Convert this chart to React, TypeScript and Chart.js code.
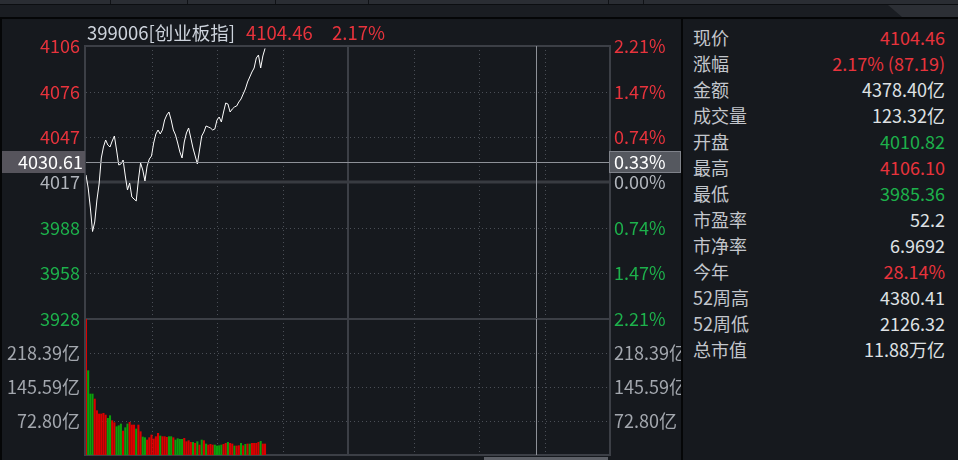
import React, { useEffect, useRef } from 'react';
import { Chart, registerables } from 'chart.js';

Chart.register(...registerables);

// ---------------- data ----------------
const PRE_CLOSE = 4017.27;
const MAX_PCT = 2.21;
const PCT_TICKS = [2.21, 1.47, 0.74, 0, -0.74, -1.47, -2.21];
const SESSION_MINUTES = 240;
const MINUTE_GRID = [30, 60, 90, 120, 150, 180, 210];
const MIDDAY = 120;

const PRICES = [
  4022.15, 4013.69, 4000.69, 3985.4, 3991.58, 4005.89, 4016.29, 4033.21, 4040.36, 4044.91,
  4041.66, 4040.36, 4044.26, 4047.51, 4038.41, 4028.65, 4029.3, 4031.9, 4021.5, 4012.39,
  4016.95, 4007.84, 4006.54, 4005.24, 4018.9, 4029.95, 4025.4, 4018.25, 4028.0, 4032.55,
  4034.51, 4042.96, 4048.81, 4051.42, 4048.81, 4051.42, 4057.92, 4061.17, 4063.12, 4057.92,
  4051.42, 4048.16, 4042.96, 4037.11, 4033.21, 4043.61, 4049.47, 4052.72, 4046.21, 4039.71,
  4034.51, 4029.3, 4038.41, 4047.51, 4050.12, 4054.02, 4053.37, 4052.72, 4051.42, 4052.07,
  4057.92, 4059.87, 4056.62, 4063.12, 4068.98, 4068.33, 4063.12, 4065.07, 4066.38, 4067.03,
  4069.63, 4071.58, 4074.83, 4078.08, 4082.64, 4085.89, 4089.14, 4091.74, 4098.25, 4100.2,
  4091.74, 4099.55, 4104.46,
];

const VOLUMES = [
  290.5, 180.5, 130.6, 130.6, 119.9, 94.9, 87.8, 87.8, 89.3, 85.6,
  78.5, 84.2, 73.5, 69.2, 60.6, 62.8, 66.4, 51.4, 58.5, 66.4,
  70.0, 64.2, 64.2, 55.7, 64.2, 49.9, 38.5, 37.1, 32.1, 37.1,
  42.8, 34.3, 39.3, 46.4, 40.7, 39.3, 39.3, 37.8, 39.3, 39.3,
  37.1, 32.1, 35.0, 33.6, 33.6, 35.7, 28.5, 30.7, 27.1, 27.1,
  25.0, 28.5, 21.4, 32.1, 30.7, 23.6, 21.4, 22.8, 21.4, 21.4,
  19.3, 20.0, 21.4, 22.8, 25.0, 27.1, 25.0, 23.6, 19.3, 19.3,
  20.0, 25.0, 20.0, 22.8, 23.6, 23.6, 25.0, 25.0, 25.0, 27.1,
  29.3, 23.6, 23.6,
];

// 1 = up (red), -1 = down (green)
const VOL_DIR = [
  1, -1, -1, -1, 1, 1, 1, 1, 1, 1,
  -1, -1, 1, 1, -1, -1, -1, 1, -1, -1,
  1, 1, 1, -1, 1, 1, -1, -1, 1, 1,
  1, 1, 1, 1, -1, 1, 1, 1, -1, -1,
  1, -1, -1, -1, -1, 1, 1, 1, 1, -1,
  1, -1, 1, -1, 1, -1, 1, 1, 1, -1,
  -1, -1, -1, 1, 1, -1, 1, 1, -1, 1,
  1, -1, 1, -1, 1, -1, 1, 1, 1, 1,
  -1, 1, 1,
];

const VOL_MAX = 291.19;
const VOL_TICKS = [72.8, 145.59, 218.39];

const CROSS_MINUTE = 206;
const CROSS_PRICE = 4030.61;

const TITLE_CODE = '399006[创业板指]';
const TITLE_PRICE = '4104.46';
const TITLE_PCT = '2.17%';

const INFO_LABELS = ['现价', '涨幅', '金额', '成交量', '开盘', '最高', '最低', '市盈率', '市净率', '今年', '52周高', '52周低', '总市值'];
const INFO_VALUES = ['4104.46', '2.17% (87.19)', '4378.40亿', '123.32亿', '4010.82', '4106.10', '3985.36', '52.2', '6.9692', '28.14%', '4380.41', '2126.32', '11.88万亿'];
const INFO_TONES = ['up', 'up', 'flat', 'flat', 'down', 'up', 'down', 'flat', 'flat', 'up', 'flat', 'flat', 'flat'];

// ---------------- styles ----------------
const FONT = '"Noto Sans CJK SC", "Noto Sans", sans-serif';
const BG = '#16191e';
const UP = '#e8333c';
const DOWN = '#1db14b';
const FLAT = '#b0b4bb';
const VOL_LABEL = '#a3a7ae';
const BAR_UP = '#dc0000';
const BAR_DOWN = '#0ca00c';
const GRID_DOT = '#4a4e56';
const GRID_SOLID = '#3c3f46';

const pctToPrice = (p: number) => PRE_CLOSE * (1 + p / 100);
const toneColor = (t: string) => (t === 'up' ? UP : t === 'down' ? DOWN : '#dfe1e4');
const priceColor = (v: number) => {
  const d = v - PRE_CLOSE;
  if (Math.abs(d) < 0.5) return FLAT;
  return d > 0 ? UP : DOWN;
};

function hline(ctx: CanvasRenderingContext2D, x1: number, x2: number, y: number) {
  ctx.beginPath();
  ctx.moveTo(x1, y);
  ctx.lineTo(x2, y);
  ctx.stroke();
}
function vline(ctx: CanvasRenderingContext2D, x: number, y1: number, y2: number) {
  ctx.beginPath();
  ctx.moveTo(x, y1);
  ctx.lineTo(x, y2);
  ctx.stroke();
}

function drawVerticalGrid(chart: any) {
  const { ctx, chartArea: a, scales } = chart;
  ctx.strokeStyle = GRID_DOT;
  ctx.lineWidth = 1;
  ctx.setLineDash([1, 3]);
  MINUTE_GRID.forEach((m) => {
    if (m === MIDDAY) return;
    const x = Math.round(scales.x.getPixelForValue(m)) + 0.5;
    vline(ctx, x, a.top, a.bottom);
  });
  ctx.setLineDash([]);
  ctx.strokeStyle = GRID_SOLID;
  ctx.lineWidth = 2;
  const xm = Math.round(scales.x.getPixelForValue(MIDDAY));
  vline(ctx, xm, a.top, a.bottom);
}

function drawBorder(chart: any) {
  const { ctx, chartArea: a } = chart;
  ctx.strokeStyle = GRID_SOLID;
  ctx.lineWidth = 2;
  ctx.setLineDash([]);
  ctx.strokeRect(a.left - 1, a.top, a.right - a.left + 1, a.bottom - a.top);
}

function drawCrossV(chart: any) {
  const { ctx, chartArea: a, scales } = chart;
  ctx.save();
  ctx.strokeStyle = '#8e9198';
  ctx.lineWidth = 1;
  const x = Math.round(scales.x.getPixelForValue(CROSS_MINUTE)) + 0.5;
  vline(ctx, x, a.top, a.bottom);
  ctx.restore();
}

const pricePlugin = {
  id: 'priceDecor',
  beforeDatasetsDraw(chart: any) {
    const { ctx, chartArea: a, scales } = chart;
    ctx.save();
    ctx.strokeStyle = GRID_DOT;
    ctx.lineWidth = 1;
    ctx.setLineDash([1, 3]);
    PCT_TICKS.forEach((p) => {
      if (p === 0 || Math.abs(p) === MAX_PCT) return;
      const y = Math.round(scales.y.getPixelForValue(pctToPrice(p))) + 0.5;
      hline(ctx, a.left, a.right, y);
    });
    drawVerticalGrid(chart);
    ctx.strokeStyle = '#383b41';
    ctx.lineWidth = 3;
    const y0 = Math.round(scales.y.getPixelForValue(PRE_CLOSE));
    hline(ctx, a.left, a.right, y0);
    drawBorder(chart);
    ctx.restore();
  },
  afterDraw(chart: any) {
    const { ctx, chartArea: a, scales } = chart;
    drawCrossV(chart);
    ctx.save();
    const y = Math.round(scales.y.getPixelForValue(CROSS_PRICE)) + 0.5;
    ctx.strokeStyle = '#8e9198';
    ctx.lineWidth = 1;
    hline(ctx, a.left, a.right, y);
    // left label box
    ctx.fillStyle = '#56545c';
    ctx.fillRect(2, y - 11.5, a.left - 3, 22);
    ctx.font = `18px ${FONT}`;
    ctx.textBaseline = 'middle';
    ctx.fillStyle = '#ffffff';
    ctx.textAlign = 'right';
    ctx.fillText(CROSS_PRICE.toFixed(2), a.left - 3, y);
    // right label box
    const pct = ((CROSS_PRICE - PRE_CLOSE) / PRE_CLOSE) * 100;
    ctx.fillStyle = '#55585f';
    ctx.fillRect(a.right - 1, y - 11.5, 72, 22);
    ctx.strokeStyle = '#7f828a';
    ctx.strokeRect(a.right - 0.5, y - 11, 71, 21);
    ctx.fillStyle = '#ffffff';
    ctx.textAlign = 'left';
    ctx.fillText(Math.abs(pct).toFixed(2) + '%', a.right + 4, y);
    ctx.restore();
  },
};

const volPlugin = {
  id: 'volDecor',
  beforeDatasetsDraw(chart: any) {
    const { ctx, chartArea: a, scales } = chart;
    ctx.save();
    ctx.strokeStyle = GRID_DOT;
    ctx.lineWidth = 1;
    ctx.setLineDash([1, 3]);
    VOL_TICKS.forEach((v) => {
      const y = Math.round(scales.y.getPixelForValue(v)) + 0.5;
      hline(ctx, a.left, a.right, y);
    });
    drawVerticalGrid(chart);
    drawBorder(chart);
    ctx.restore();
  },
  afterDraw(chart: any) {
    drawCrossV(chart);
  },
};

const fixWidth = (w: number) => (axis: any) => {
  axis.width = w;
  axis.paddingTop = 0;
  axis.paddingBottom = 0;
};

const noGrid = { display: false, drawTicks: false, tickLength: 0 };

export default function App() {
  const priceRef = useRef<HTMLCanvasElement>(null);
  const volRef = useRef<HTMLCanvasElement>(null);

  useEffect(() => {
    document.body.style.margin = '0';
    const lo = pctToPrice(-MAX_PCT);
    const hi = pctToPrice(MAX_PCT);
    const tickFont = { family: FONT, size: 18 };

    const priceChart = new Chart(priceRef.current as HTMLCanvasElement, {
      type: 'line',
      data: {
        datasets: [
          {
            data: PRICES.map((p, i) => ({ x: i, y: p })),
            borderColor: '#ffffff',
            borderWidth: 1,
            pointRadius: 0,
            tension: 0,
            fill: false,
          },
        ],
      },
      options: {
        responsive: false,
        animation: false,
        events: [],
        layout: { padding: { top: 46, bottom: 16, left: 0, right: 0 } },
        plugins: { legend: { display: false }, tooltip: { enabled: false } },
        scales: {
          x: { type: 'linear', min: 0, max: SESSION_MINUTES, display: false, offset: false },
          y: {
            position: 'left',
            min: lo,
            max: hi,
            grid: noGrid,
            border: { display: false },
            afterBuildTicks: (axis: any) => {
              axis.ticks = PCT_TICKS.map((p) => ({ value: pctToPrice(p) }));
            },
            afterFit: fixWidth(86),
            ticks: {
              autoSkip: false,
              padding: 6,
              font: tickFont,
              color: (c: any) => priceColor(c.tick.value),
              callback: (v: any) => String(Math.round(Number(v))),
            },
          },
          yr: {
            position: 'right',
            min: lo,
            max: hi,
            grid: noGrid,
            border: { display: false },
            afterBuildTicks: (axis: any) => {
              axis.ticks = PCT_TICKS.map((p) => ({ value: pctToPrice(p) }));
            },
            afterFit: fixWidth(72),
            ticks: {
              autoSkip: false,
              padding: 4,
              font: tickFont,
              color: (c: any) => priceColor(c.tick.value),
              callback: (v: any) => (Math.abs((Number(v) - PRE_CLOSE) / PRE_CLOSE) * 100).toFixed(2) + '%',
            },
          },
        },
      } as any,
      plugins: [pricePlugin],
    });

    const volChart = new Chart(volRef.current as HTMLCanvasElement, {
      type: 'bar',
      data: {
        datasets: [
          {
            data: VOLUMES.map((v, i) => ({ x: i, y: v })),
            backgroundColor: VOL_DIR.map((d) => (d > 0 ? BAR_UP : BAR_DOWN)),
            barThickness: 1.4,
            borderWidth: 0,
          },
        ],
      },
      options: {
        responsive: false,
        animation: false,
        events: [],
        layout: { padding: { top: 19, bottom: 20, left: 0, right: 0 } },
        plugins: { legend: { display: false }, tooltip: { enabled: false } },
        scales: {
          x: { type: 'linear', min: 0, max: SESSION_MINUTES, display: false, offset: false },
          y: {
            position: 'left',
            min: 0,
            max: VOL_MAX,
            grid: noGrid,
            border: { display: false },
            afterBuildTicks: (axis: any) => {
              axis.ticks = VOL_TICKS.map((v) => ({ value: v }));
            },
            afterFit: fixWidth(86),
            ticks: {
              autoSkip: false,
              padding: 6,
              font: tickFont,
              color: VOL_LABEL,
              callback: (v: any) => Number(v).toFixed(2) + '亿',
            },
          },
          yr: {
            position: 'right',
            min: 0,
            max: VOL_MAX,
            grid: noGrid,
            border: { display: false },
            afterBuildTicks: (axis: any) => {
              axis.ticks = VOL_TICKS.map((v) => ({ value: v }));
            },
            afterFit: fixWidth(72),
            ticks: {
              autoSkip: false,
              padding: 4,
              font: tickFont,
              color: VOL_LABEL,
              callback: (v: any) => Number(v).toFixed(2) + '亿',
            },
          },
        },
      } as any,
      plugins: [volPlugin],
    });

    return () => {
      priceChart.destroy();
      volChart.destroy();
    };
  }, []);

  const abs = (s: React.CSSProperties): React.CSSProperties => ({ position: 'absolute', ...s });

  return (
    <div
      style={{
        position: 'fixed',
        left: 0,
        top: 0,
        width: 958,
        height: 460,
        background: BG,
        overflow: 'hidden',
        fontFamily: FONT,
      }}
    >
      {/* top strip */}
      <div style={abs({ left: 0, top: 0, width: 958, height: 4, background: '#2a2d33' })} />
      {[110, 187, 275, 368, 608, 643].map((x) => (
        <div key={x} style={abs({ left: x, top: 0, width: 1, height: 4, background: '#101216' })} />
      ))}
      <div style={abs({ left: 0, top: 4, width: 958, height: 1, background: '#0c0e11' })} />
      <div style={abs({ left: 0, top: 5, width: 958, height: 12, background: '#1a1d22' })} />
      <div
        style={abs({
          left: 888,
          top: 5,
          width: 70,
          height: 12,
          background: '#2c2f35',
          clipPath: 'polygon(0 0, 100% 0, 100% 100%, 14px 100%)',
        })}
      />
      <div style={abs({ left: 0, top: 17, width: 958, height: 2, background: '#050607' })} />

      <canvas ref={priceRef} width={682} height={335} style={abs({ left: 0, top: 0 })} />
      <canvas ref={volRef} width={682} height={175} style={abs({ left: 0, top: 300 })} />

      {/* panel separators */}
      <div style={abs({ left: 0, top: 17, width: 2, height: 443, background: '#050607' })} />
      <div style={abs({ left: 681, top: 17, width: 2, height: 443, background: '#050607' })} />
      <div style={abs({ left: 484, top: 457, width: 124, height: 3, background: '#5c5f66' })} />

      {/* title */}
      <div style={abs({ left: 87, top: 21, height: 22, lineHeight: '22px', fontSize: 18.5, color: '#cdd3dc', whiteSpace: 'nowrap' })}>
        {TITLE_CODE}
      </div>
      <div style={abs({ left: 246, top: 21, height: 22, lineHeight: '22px', fontSize: 18.5, color: UP })}>{TITLE_PRICE}</div>
      <div style={abs({ left: 332, top: 21, height: 22, lineHeight: '22px', fontSize: 18.5, color: UP })}>{TITLE_PCT}</div>

      {/* info panel */}
      {INFO_LABELS.map((lab, i) => (
        <div
          key={lab}
          style={abs({
            left: 693,
            top: 24 + i * 26,
            width: 252,
            height: 26,
            lineHeight: '26px',
            fontSize: 18,
            whiteSpace: 'nowrap',
          })}
        >
          <span style={{ color: '#c3c6cc' }}>{lab}</span>
          <span style={{ position: 'absolute', right: 0, color: toneColor(INFO_TONES[i]) }}>{INFO_VALUES[i]}</span>
        </div>
      ))}
    </div>
  );
}
